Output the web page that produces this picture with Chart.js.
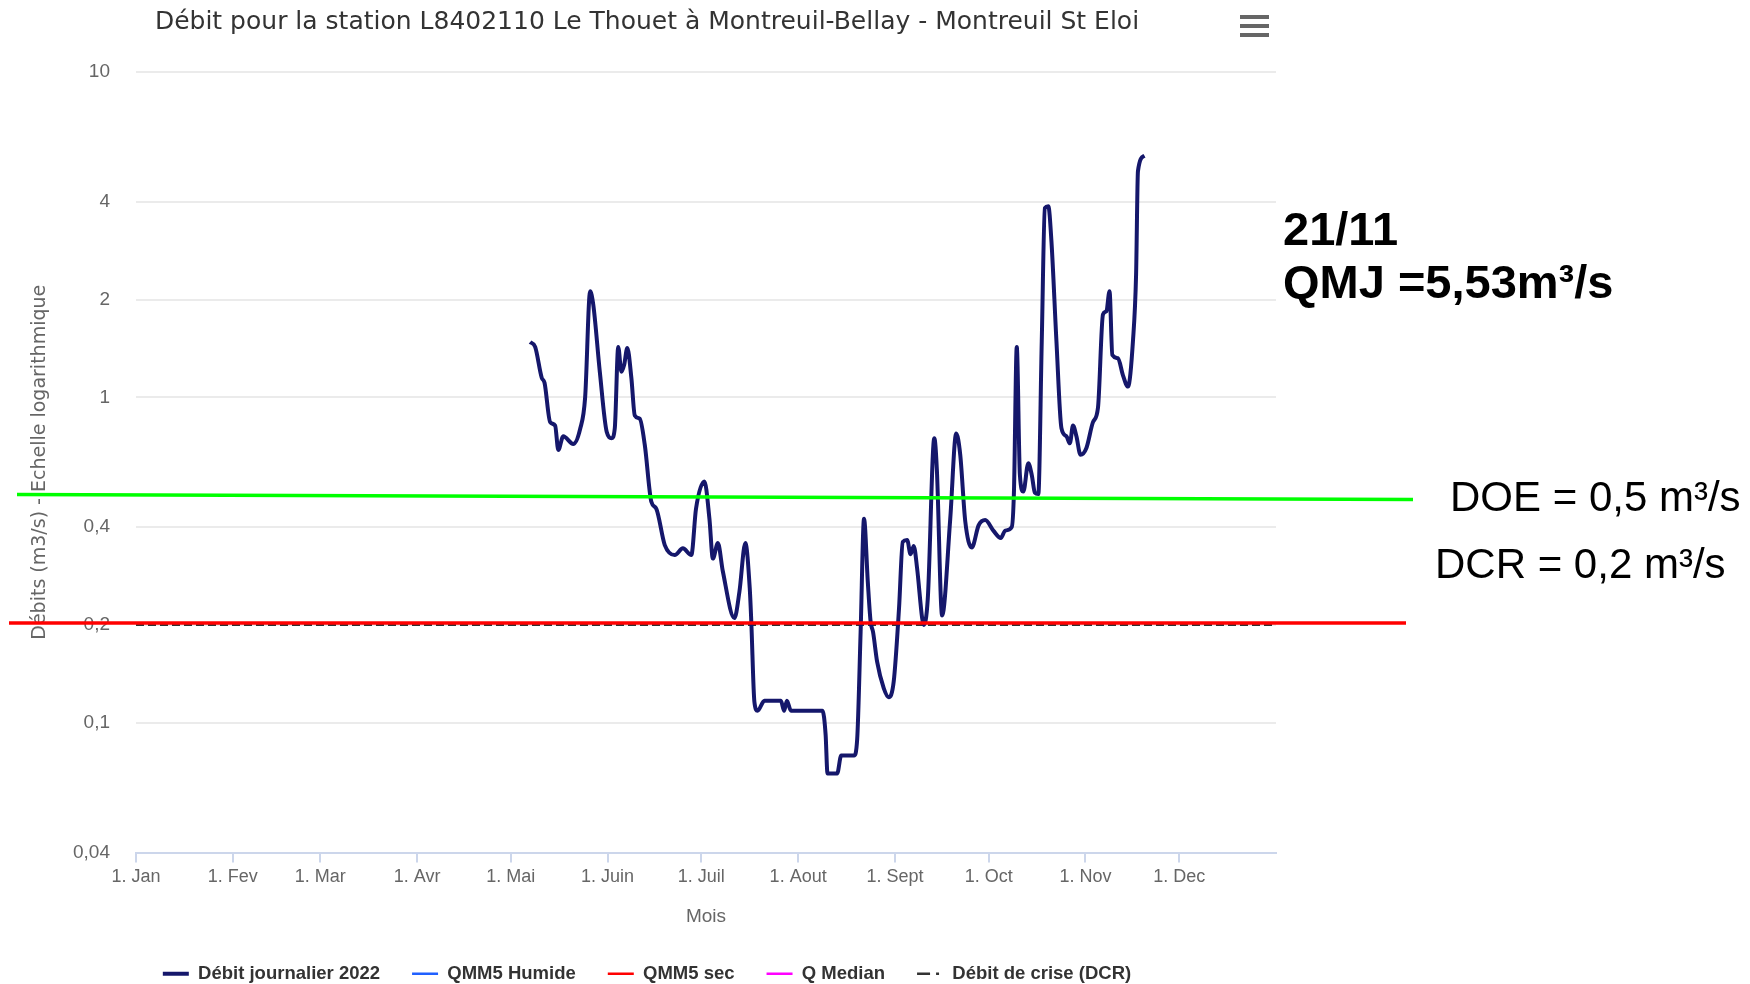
<!DOCTYPE html>
<html>
<head>
<meta charset="utf-8">
<script src="https://cdn.jsdelivr.net/npm/chart.js"></script>
<style>
  html, body { margin: 0; padding: 0; background: #fff; }
  canvas { display: block; }
</style>
</head>
<body>
<canvas id="debit-chart" width="1750" height="984" style="width:1750px;height:984px"></canvas>
<script>
// day of year (0 = 1 Jan 2022) and daily flow in m3/s
const days = [126.2, 127.8, 129.9, 130.8, 132.6, 134.2, 135.2, 136.8, 140, 142.2,
  143.8, 145.4, 146.4, 148.5, 150.7, 152.3, 153.3, 154.4, 155.4, 156.3,
  157.3, 158.6, 159.7, 161.3, 162.9, 165, 166.6, 169.3, 172.5, 175.1,
  177.8, 179.3, 182, 183.6, 184.7, 186.3, 187.9, 191.6, 193.2, 195.1,
  196.5, 197, 198, 199, 201.2, 206.5, 207.5, 208.4, 209.7, 219.8,
  220.8, 221.4, 224.5, 225.8, 229.9, 230.9, 232, 233.1, 234.3, 235.2,
  236, 237.3, 239.4, 241, 242.6, 244.3, 245.5, 246.9, 248, 249,
  250.1, 251.7, 252.2, 253.5, 255.6, 256.4, 258.1, 260.7, 262.6, 263.9,
  265.5, 267.6, 269.8, 271.9, 274.5, 276.9, 278.3, 280.4, 281.1, 282,
  283, 284.1, 285.7, 286.8, 287.8, 288.9, 290, 291, 292.1, 293.1,
  294.7, 296.3, 297.9, 299, 300, 301.1, 302.4, 304.3, 306.4, 308,
  309.6, 310.7, 311.7, 312.6, 314.4, 316, 317.6, 319.2, 320.2, 320.8, 322.9];
const debit = [1.48, 1.43, 1.15, 1.11, 0.84, 0.82, 0.69, 0.76, 0.72, 0.80,
  1.0, 2.12, 1.93, 1.2, 0.785, 0.75, 0.805, 1.43, 1.2, 1.26,
  1.42, 1.15, 0.88, 0.86, 0.715, 0.478, 0.455, 0.352, 0.328, 0.344,
  0.328, 0.455, 0.552, 0.424, 0.32, 0.357, 0.292, 0.21, 0.253, 0.357,
  0.26, 0.205, 0.116, 0.109, 0.117, 0.117, 0.109, 0.117, 0.109, 0.109,
  0.092, 0.07, 0.07, 0.0795, 0.0795, 0.089, 0.19, 0.424, 0.272, 0.205,
  0.19, 0.154, 0.128, 0.12, 0.134, 0.225, 0.36, 0.365, 0.33, 0.35,
  0.298, 0.21, 0.2, 0.24, 0.75, 0.605, 0.214, 0.424, 0.775, 0.667,
  0.417, 0.346, 0.405, 0.42, 0.39, 0.37, 0.39, 0.40, 0.514, 1.43,
  0.578, 0.514, 0.628, 0.578, 0.51, 0.505, 1.49, 3.82, 3.87, 3.02,
  1.49, 0.805, 0.76, 0.723, 0.82, 0.76, 0.667, 0.70, 0.84, 0.93,
  1.80, 1.84, 2.12, 1.35, 1.32, 1.17, 1.08, 1.49, 2.38, 4.96, 5.53];

const monthStarts = [0, 31, 59, 90, 120, 151, 181, 212, 243, 273, 304, 334];
const monthLabels = ['1. Jan', '1. Fev', '1. Mar', '1. Avr', '1. Mai', '1. Juin',
  '1. Juil', '1. Aout', '1. Sept', '1. Oct', '1. Nov', '1. Dec'];
const yTicks = [0.04, 0.1, 0.2, 0.4, 1, 2, 4, 10];

const DCR = 0.2;
const DOE = 0.5;
const lastDate = '21/11';
const lastQmj = 5.53;

const frNum = v => String(v).replace('.', ',');

// title and legend sit a little right of the plot centre in the original
const nudge = {
  id: 'nudge',
  afterLayout(chart) {
    [chart.titleBlock, chart.legend].forEach(b => {
      if (b) { b.left += 9; b.right += 9; }
    });
  }
};

// overlay drawn on top of the chart: menu icon, threshold lines and notes
const overlay = {
  id: 'overlay',
  afterDraw(chart) {
    const ctx = chart.ctx;
    const y = chart.scales.y;
    ctx.save();

    ctx.fillStyle = '#666';
    [15, 24, 33].forEach(t => ctx.fillRect(1240, t, 29, 4));

    const yDoe = y.getPixelForValue(DOE);
    ctx.strokeStyle = '#00ff00';
    ctx.lineWidth = 3.5;
    ctx.beginPath();
    ctx.moveTo(17, yDoe - 1);
    ctx.lineTo(1413, yDoe + 4);
    ctx.stroke();

    const yDcr = y.getPixelForValue(DCR);
    ctx.strokeStyle = '#ff0000';
    ctx.beginPath();
    ctx.moveTo(9, yDcr - 2);
    ctx.lineTo(1406, yDcr - 2);
    ctx.stroke();

    ctx.fillStyle = '#000';
    ctx.textBaseline = 'alphabetic';
    ctx.textAlign = 'left';
    ctx.font = 'bold 47px "Liberation Sans", Arial, sans-serif';
    ctx.fillText(lastDate, 1283, 245);
    ctx.fillText('QMJ =' + frNum(lastQmj) + 'm\u00b3/s', 1283, 298);
    ctx.font = '42px "Liberation Sans", Arial, sans-serif';
    ctx.fillText('DOE = ' + frNum(DOE) + ' m\u00b3/s', 1450, 511);
    ctx.fillText('DCR = ' + frNum(DCR) + ' m\u00b3/s', 1435, 578);
    ctx.restore();
  }
};

Chart.defaults.font.family = '"Liberation Sans", Arial, sans-serif';

const ctx = document.getElementById('debit-chart');
new Chart(ctx, {
  type: 'line',
  data: {
    datasets: [
      {
        label: 'Débit journalier 2022',
        data: days.map((d, i) => ({ x: d, y: debit[i] })),
        borderColor: '#15176b',
        backgroundColor: '#15176b',
        borderWidth: 4,
        pointRadius: 0,
        cubicInterpolationMode: 'monotone',
        legendWidth: 4
      },
      { label: 'QMM5 Humide', data: [], borderColor: '#2060ff', backgroundColor: '#2060ff', legendWidth: 2.5 },
      { label: 'QMM5 sec', data: [], borderColor: '#ff0000', backgroundColor: '#ff0000', legendWidth: 2.5 },
      { label: 'Q Median', data: [], borderColor: '#ff00ff', backgroundColor: '#ff00ff', legendWidth: 2.5 },
      {
        label: 'Débit de crise (DCR)',
        data: [{ x: 0, y: DCR }, { x: 365, y: DCR }],
        borderColor: '#333',
        backgroundColor: '#333',
        borderWidth: 2,
        borderDash: [8, 4],
        pointRadius: 0,
        legendWidth: 2.5,
        legendDash: [13, 6, 3, 10]
      }
    ]
  },
  options: {
    responsive: false,
    animation: false,
    layout: { padding: { left: 0, right: 474, top: 0, bottom: -9 } },
    plugins: {
      tooltip: { enabled: false },
      title: {
        display: true,
        text: 'Débit pour la station L8402110 Le Thouet à Montreuil-Bellay - Montreuil St Eloi',
        color: '#333',
        font: { family: '"DejaVu Sans", sans-serif', size: 25, weight: 'normal' },
        padding: { top: 7, bottom: 35 }
      },
      legend: {
        position: 'bottom',
        labels: {
          usePointStyle: true,
          pointStyle: 'line',
          pointStyleWidth: 26,
          padding: 32,
          color: '#333',
          font: { size: 18.5, weight: 'bold' },
          generateLabels: chart => chart.data.datasets.map((ds, i) => ({
            text: ds.label,
            fillStyle: ds.borderColor,
            strokeStyle: ds.borderColor,
            lineWidth: ds.legendWidth,
            lineDash: ds.legendDash || [],
            lineCap: 'butt',
            pointStyle: 'line',
            hidden: false,
            fontColor: '#333',
            datasetIndex: i
          }))
        }
      }
    },
    scales: {
      x: {
        type: 'linear',
        min: 0,
        max: 365,
        afterFit: s => { s.height = 80; },
        afterBuildTicks: s => { s.ticks = monthStarts.map(v => ({ value: v })); },
        ticks: {
          color: '#666',
          font: { size: 18 },
          padding: 4,
          maxRotation: 0,
          autoSkip: false,
          callback: v => monthLabels[monthStarts.indexOf(v)]
        },
        grid: { drawOnChartArea: false, drawTicks: true, tickLength: 10, color: '#ccd6eb', lineWidth: 2 },
        border: { color: '#ccd6eb', width: 2 },
        title: { display: true, text: 'Mois', color: '#666', font: { size: 19 }, padding: { top: 0, bottom: 4 } }
      },
      y: {
        type: 'logarithmic',
        min: 0.04,
        max: 10,
        afterFit: s => { s.width = 136; },
        afterBuildTicks: s => { s.ticks = yTicks.map(v => ({ value: v })); },
        ticks: {
          color: '#666',
          font: { size: 19 },
          padding: 26,
          autoSkip: false,
          callback: v => frNum(v)
        },
        grid: { drawTicks: false, color: '#ebebeb', lineWidth: 2 },
        border: { display: false },
        title: {
          display: true,
          text: 'Débits (m3/s) - Echelle logarithmique',
          color: '#666',
          font: { family: '"DejaVu Sans", sans-serif', size: 19 },
          padding: { top: 29, bottom: 0 }
        }
      }
    }
  },
  plugins: [nudge, overlay]
});
</script>
</body>
</html>
